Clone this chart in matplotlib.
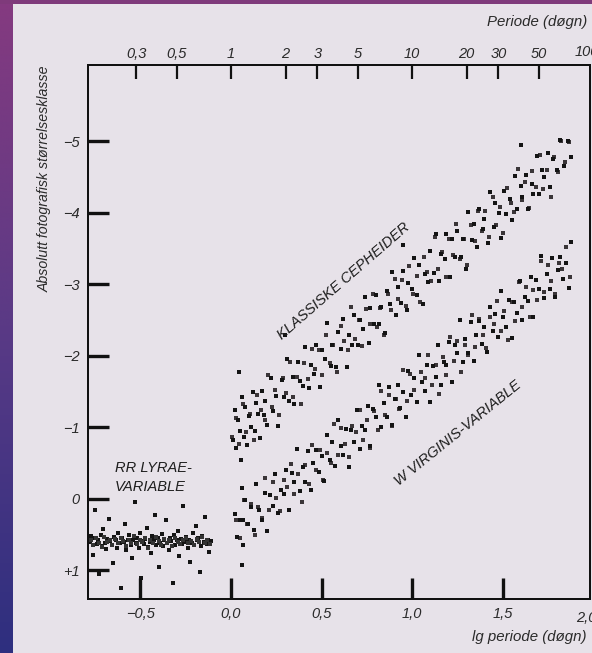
import numpy as np
import matplotlib
matplotlib.use("Agg")
import matplotlib.pyplot as plt
from matplotlib.colors import LinearSegmentedColormap

plt.rcParams['font.family'] = ['Liberation Sans', 'DejaVu Sans']
plt.rcParams['font.style'] = 'italic'

# ---------------- data ----------------
# Classical Cepheids (lg P, absolute photographic magnitude)
cep_x = [0.01,0.02,0.03,0.04,0.05,0.06,0.07,0.08,0.09,0.10,0.11,0.12,0.13,0.14,0.15,0.16,0.17,0.18,0.19,0.20,
         0.22,0.23,0.25,0.26,0.28,0.29,0.31,0.32,0.34,0.35,0.37,0.38,0.40,0.41,0.43,0.44,0.46,0.47,0.49,0.50,
         0.52,0.53,0.55,0.56,0.58,0.59,0.61,0.62,0.64,0.65,0.67,0.68,0.70,0.71,0.73,0.74,0.76,0.77,0.79,0.80,
         0.82,0.83,0.85,0.86,0.88,0.89,0.91,0.92,0.94,0.95,0.97,0.98,1.00,1.01,1.03,1.04,1.06,1.07,1.09,1.10,
         1.12,1.13,1.15,1.16,1.18,1.19,1.21,1.22,1.24,1.25,1.27,1.28,1.30,1.31,1.33,1.34,1.36,1.37,1.39,1.40,
         1.42,1.43,1.45,1.46,1.48,1.49,1.51,1.52,1.54,1.55,1.57,1.58,1.60,1.61,1.63,1.64,1.66,1.67,1.69,1.70,
         1.72,1.73,1.75,1.76,1.78,1.80,1.82,1.84,1.86,1.88,
         0.055,0.06,0.065,0.06,0.045,0.30,0.95,1.60]
cep_m = [-0.82,-1.24,-0.71,-1.10,-0.95,-1.42,-0.86,-1.28,-0.76,-1.16,-1.01,-1.50,-0.95,-1.34,-1.19,-0.85,-1.51,-1.18,-1.37,-1.04,
         -1.69,-1.23,-1.44,-1.02,-1.66,-1.43,-1.96,-1.37,-1.71,-1.33,-1.91,-1.65,-1.58,-2.12,-1.55,-1.88,-1.75,-2.16,-1.57,-2.09,
         -1.96,-2.46,-1.86,-2.16,-1.84,-2.33,-2.10,-2.52,-1.84,-2.29,-2.16,-2.57,-2.15,-2.50,-2.38,-2.83,-2.18,-2.67,-2.45,-2.85,
         -2.45,-2.68,-2.32,-2.91,-2.73,-3.18,-2.57,-2.96,-2.74,-3.19,-2.64,-3.02,-2.94,-3.37,-2.85,-3.27,-2.73,-3.15,-3.03,-3.47,
         -3.16,-3.70,-3.05,-3.43,-3.35,-3.70,-3.11,-3.63,-3.38,-3.75,-3.38,-3.63,-3.22,-4.02,-3.62,-3.85,-3.52,-4.06,-3.77,-3.92,
         -3.58,-4.30,-3.80,-4.14,-4.00,-3.65,-4.31,-3.99,-4.19,-3.90,-4.52,-4.05,-4.38,-4.22,-4.53,-4.06,-4.40,-4.27,-4.80,-4.27,
         -4.60,-4.50,-4.84,-4.37,-4.76,-4.60,-5.02,-4.66,-5.00,-4.79,
         -0.55,-0.15,0.30,0.92,-1.78,-2.30,-3.55,-4.95]
# fainter dots of the same band
cep2_x = [0.005,0.025,0.045,0.065,0.085,0.105,0.125,0.145,0.165,0.185,0.205,0.225,0.245,0.265,0.285,0.305,0.325,0.345,0.365,0.385,
          0.405,0.425,0.445,0.465,0.485,0.505,0.525,0.545,0.565,0.585,0.605,0.625,0.645,0.665,0.685,0.705,0.725,0.745,0.765,0.785,
          0.805,0.825,0.845,0.865,0.885,0.905,0.925,0.945,0.965,0.985,1.005,1.025,1.045,1.065,1.085,1.105,1.125,1.145,1.165,1.185,
          1.205,1.225,1.245,1.265,1.285,1.305,1.325,1.345,1.365,1.385,1.405,1.425,1.445,1.465,1.485,1.505,1.525,1.545,1.565,1.585,
          1.605,1.625,1.645,1.665,1.685,1.705,1.725,1.745,1.765,1.785,1.805,1.825,1.845,1.865]
cep2_m = [-0.86,-1.13,-0.77,-1.33,-0.93,-1.19,-0.82,-1.45,-1.24,-1.11,-1.73,-1.28,-1.53,-1.17,-1.69,-1.48,-1.91,-1.43,-1.70,-1.33,
          -1.90,-1.68,-2.10,-1.82,-2.09,-1.74,-2.30,-1.90,-2.15,-1.78,-2.42,-2.21,-2.08,-2.69,-2.24,-2.50,-2.14,-2.66,-2.44,-2.87,
          -2.40,-2.67,-2.30,-2.86,-2.64,-3.07,-2.79,-3.06,-2.70,-3.26,-2.87,-3.12,-2.75,-3.38,-3.17,-3.05,-3.66,-3.21,-3.46,-3.10,
          -3.63,-3.41,-3.84,-3.36,-3.63,-3.27,-3.83,-3.61,-4.03,-3.75,-4.03,-3.67,-4.23,-3.83,-4.08,-3.72,-4.35,-4.14,-4.01,-4.62,
          -4.18,-4.43,-4.07,-4.59,-4.37,-4.81,-4.33,-4.60,-4.23,-4.79,-4.58,-5.00,-4.72,-4.99]

# W Virginis variables
wvir_x = [0.020,0.035,0.050,0.065,0.080,0.095,0.110,0.125,0.140,0.155,0.170,0.185,0.200,0.215,0.230,0.245,0.260,0.275,0.290,0.305,
          0.320,0.335,0.350,0.365,0.380,0.395,0.410,0.425,0.440,0.455,0.470,0.485,0.500,0.515,0.530,0.545,0.560,0.575,0.590,0.605,
          0.620,0.635,0.650,0.665,0.680,0.695,0.710,0.725,0.740,0.755,0.770,0.785,0.800,0.815,0.830,0.845,0.860,0.875,0.890,0.905,
          0.920,0.935,0.950,0.965,0.980,0.995,1.010,1.025,1.040,1.055,1.070,1.085,1.100,1.115,1.130,1.145,1.160,1.175,1.190,1.205,
          1.220,1.235,1.250,1.265,1.280,1.295,1.310,1.325,1.340,1.355,1.370,1.385,1.400,1.415,1.430,1.445,1.460,1.475,1.490,1.505,
          1.520,1.535,1.550,1.565,1.580,1.595,1.610,1.625,1.640,1.655,1.670,1.685,1.700,1.715,1.730,1.745,1.760,1.775,1.790,1.805,
          1.820,1.835,1.850,1.865,1.880]
wvir_m = [0.21,0.53,0.30,0.65,0.01,0.35,0.11,0.44,-0.21,0.16,0.29,-0.08,0.45,-0.06,0.10,-0.35,0.20,-0.12,-0.07,-0.40,
          0.16,-0.36,-0.24,-0.70,-0.11,-0.44,-0.24,-0.67,-0.13,-0.50,-0.69,-0.37,-0.60,-0.25,-0.89,-0.55,-0.79,-0.46,-1.11,-0.74,
          -0.61,-0.98,-0.45,-0.96,-0.80,-1.25,-0.70,-1.02,-0.97,-1.30,-0.74,-1.26,-1.14,-1.60,-1.01,-1.34,-1.14,-1.57,-1.03,-1.40,
          -1.59,-1.27,-1.50,-1.15,-1.79,-1.45,-1.69,-1.36,-2.01,-1.64,-1.51,-1.88,-1.35,-1.86,-1.70,-2.15,-1.60,-1.92,-1.87,-2.20,
          -1.64,-2.16,-2.04,-2.50,-1.91,-2.24,-2.04,-2.47,-1.93,-2.30,-2.49,-2.17,-2.40,-2.05,-2.69,-2.35,-2.59,-2.26,-2.91,-2.54,
          -2.41,-2.78,-2.25,-2.76,-2.60,-3.05,-2.50,-2.82,-2.77,-3.10,-2.54,-3.06,-2.94,-3.40,-2.81,-3.14,-2.94,-3.37,-2.83,-3.20,
          -3.39,-3.07,-3.30,-2.95,-3.59]
wvir2_x = [0.03,0.05,0.07,0.09,0.11,0.13,0.15,0.17,0.19,0.21,0.23,0.25,0.27,0.29,0.31,0.33,0.35,0.37,0.39,0.41,
           0.43,0.45,0.47,0.49,0.51,0.53,0.55,0.57,0.59,0.61,0.63,0.65,0.67,0.69,0.71,0.73,0.75,0.77,0.79,0.81,
           0.83,0.85,0.87,0.89,0.91,0.93,0.95,0.97,0.99,1.01,1.03,1.05,1.07,1.09,1.11,1.13,1.15,1.17,1.19,1.21,
           1.23,1.25,1.27,1.29,1.31,1.33,1.35,1.37,1.39,1.41,1.43,1.45,1.47,1.49,1.51,1.53,1.55,1.57,1.59,1.61,
           1.63,1.65,1.67,1.69,1.71,1.73,1.75,1.77,1.79,1.81,1.83,1.85,1.87]
wvir2_m = [0.29,0.55,0.01,0.35,0.07,0.50,0.12,0.26,-0.29,0.15,-0.23,-0.01,0.17,-0.26,-0.17,-0.49,-0.07,-0.35,0.05,-0.47,
           -0.21,-0.75,-0.41,-0.69,-0.26,-0.64,-0.50,-1.05,-0.61,-0.99,-0.77,-0.59,-1.02,-0.93,-1.25,-0.83,-1.11,-0.71,-1.23,-0.97,
           -1.51,-1.17,-1.45,-1.02,-1.40,-1.26,-1.81,-1.37,-1.75,-1.53,-1.35,-1.78,-1.69,-2.01,-1.59,-1.87,-1.47,-1.99,-1.73,-2.27,
           -1.93,-2.21,-1.78,-2.16,-2.02,-2.57,-2.13,-2.51,-2.29,-2.11,-2.54,-2.45,-2.77,-2.35,-2.63,-2.23,-2.75,-2.49,-3.03,-2.69,
           -2.97,-2.54,-2.92,-2.78,-3.33,-2.89,-3.27,-3.05,-2.87,-3.30,-3.21,-3.53,-3.11]

# RR Lyrae variables
rr_x = [-0.780,-0.773,-0.765,-0.758,-0.750,-0.743,-0.735,-0.728,-0.720,-0.713,
        -0.705,-0.698,-0.690,-0.683,-0.675,-0.668,-0.660,-0.653,-0.645,-0.638,
        -0.630,-0.623,-0.615,-0.608,-0.600,-0.593,-0.585,-0.578,-0.570,-0.563,
        -0.555,-0.548,-0.540,-0.533,-0.525,-0.518,-0.510,-0.503,-0.495,-0.488,
        -0.480,-0.473,-0.465,-0.458,-0.450,-0.443,-0.435,-0.428,-0.420,-0.413,
        -0.405,-0.398,-0.390,-0.383,-0.375,-0.368,-0.360,-0.353,-0.345,-0.338,
        -0.330,-0.323,-0.315,-0.308,-0.300,-0.293,-0.285,-0.278,-0.270,-0.263,
        -0.255,-0.248,-0.240,-0.233,-0.225,-0.218,-0.210,-0.203,-0.195,-0.188,
        -0.180,-0.173,-0.165,-0.158,-0.150,-0.143,-0.135,-0.128,-0.120,-0.113]
rr_m = [0.60,0.52,0.78,0.55,0.15,0.63,0.58,1.05,0.50,0.66,0.42,0.61,0.70,0.56,0.28,0.59,0.64,0.90,0.53,0.57,
        0.68,0.47,0.62,1.25,0.55,0.60,0.35,0.72,0.58,0.51,0.65,0.82,0.57,0.05,0.61,0.54,0.69,0.48,1.10,0.59,
        0.63,0.56,0.40,0.67,0.60,0.75,0.52,0.58,0.22,0.64,0.55,0.95,0.61,0.49,0.66,0.57,0.30,0.62,0.71,0.54,
        0.59,1.18,0.50,0.65,0.58,0.45,0.80,0.56,0.63,0.10,0.60,0.53,0.69,0.57,0.88,0.61,0.47,0.64,0.38,0.58,
        0.55,1.02,0.66,0.52,0.60,0.25,0.63,0.57,0.74,0.59]
rr_core_x = [-0.775,-0.760,-0.745,-0.730,-0.715,-0.700,-0.685,-0.670,-0.655,-0.640,-0.625,-0.610,-0.595,-0.580,-0.565,
             -0.550,-0.535,-0.520,-0.505,-0.490,-0.475,-0.460,-0.445,-0.430,-0.415,-0.400,-0.385,-0.370,-0.355,-0.340,
             -0.325,-0.310,-0.295,-0.280,-0.265,-0.250,-0.235,-0.220,-0.205,-0.190,-0.175,-0.160,-0.145,-0.130,-0.115]
rr_core_m = [0.57,0.64,0.55,0.61,0.67,0.53,0.60,0.58,0.65,0.56,0.62,0.54,0.59,0.66,0.57,
             0.61,0.52,0.63,0.58,0.60,0.55,0.68,0.57,0.62,0.53,0.59,0.64,0.56,0.61,0.58,
             0.66,0.54,0.60,0.63,0.57,0.55,0.62,0.59,0.65,0.56,0.60,0.53,0.61,0.58,0.63]

# axes ticks / labels
lg_ticks = [-0.5, 0.0, 0.5, 1.0, 1.5]
lg_labels = ['\u22120,5', '0,0', '0,5', '1,0', '1,5']
period_ticks = [0.3, 0.5, 1, 2, 3, 5, 10, 20, 30, 50]
period_labels = ['0,3', '0,5', '1', '2', '3', '5', '10', '20', '30', '50']
mag_ticks = [-5, -4, -3, -2, -1, 0, 1]
mag_labels = ['\u22125', '\u22124', '\u22123', '\u22122', '\u22121', '0', '+1']

# ---------------- figure ----------------
W, H = 592, 653
fig = plt.figure(figsize=(W / 100, H / 100), dpi=100)
paper = '#e7e2e9'
fig.patch.set_facecolor(paper)

# purple/blue border strips
cmap = LinearSegmentedColormap.from_list('bd', ['#853a80', '#5a3a86', '#2e2f7f'])
bl = fig.add_axes([0, 0, 13 / W, 1])
bl.imshow(np.linspace(0, 1, 256).reshape(-1, 1), aspect='auto', cmap=cmap,
          extent=[0, 1, 0, 1], origin='upper')
bl.axis('off')
bt = fig.add_axes([0, 1 - 4 / H, 1, 4 / H])
bt.set_facecolor('#7f3a7b')
bt.set_xticks([]); bt.set_yticks([])
for s in bt.spines.values():
    s.set_visible(False)

L, R, T, B = 88, 590, 65, 599
ax = fig.add_axes([L / W, 1 - B / H, (R - L) / W, (B - T) / H])
ax.set_facecolor(paper)
ax.set_xlim(-0.79, 1.983)
ax.set_ylim(1.40, -6.07)

dot = '#141414'
faint = '#3a3538'
ax.scatter(cep2_x, cep2_m, s=5, c=faint, marker='s', linewidths=0)
ax.scatter(wvir2_x, wvir2_m, s=5, c=faint, marker='s', linewidths=0)
ax.scatter(cep_x, cep_m, s=6, c=dot, marker='s', linewidths=0)
ax.scatter(wvir_x, wvir_m, s=6, c=dot, marker='s', linewidths=0)
ax.scatter(rr_x, rr_m, s=6, c=dot, marker='s', linewidths=0)
ax.scatter(rr_core_x, rr_core_m, s=5, c='#333333', marker='s', linewidths=0)

for s in ax.spines.values():
    s.set_linewidth(1.4)
    s.set_color('#111111')

tc = '#2a2a2a'
ax.set_xticks(lg_ticks)
ax.set_xticklabels(lg_labels)
ax.tick_params(axis='x', direction='in', length=15, width=2.4, color='#111111',
               labelsize=10.5, labelcolor=tc, pad=6)
ax.set_yticks(mag_ticks)
ax.set_yticklabels(mag_labels)
ax.tick_params(axis='y', direction='in', length=15, width=2.4, color='#111111',
               labelsize=10.5, labelcolor=tc, pad=6)

# top period axis
top = ax.twiny()
top.set_xlim(ax.get_xlim())
top.set_xticks(np.log10(period_ticks))
top.set_xticklabels(period_labels)
top.tick_params(axis='x', direction='in', length=10, width=1.6, color='#111111',
                labelsize=10.5, labelcolor=tc, pad=3)
for s in top.spines.values():
    s.set_linewidth(1.4)
    s.set_color('#111111')

# labels at lg P = 2 (partly beyond the right edge, as in the original scan)
ax.text(1.962, -0.022, '2,0', transform=ax.get_xaxis_transform(), ha='center', va='top',
        fontsize=10.5, color=tc, clip_on=False)
ax.text(1.965, 1.011, '100', transform=ax.get_xaxis_transform(), ha='center', va='bottom',
        fontsize=10.5, color=tc, clip_on=False)

fig.text(487 / W, 1 - 22 / H, 'Periode (døgn)', ha='left', va='center', fontsize=10.8, color=tc)
fig.text(472 / W, 1 - 637 / H, 'lg periode (døgn)', ha='left', va='center', fontsize=10.8, color=tc)
fig.text(45 / W, 1 - 66 / H, 'Absolutt fotografisk størrelsesklasse', rotation=90,
         ha='center', va='top', fontsize=10.2, color=tc)

lab = '#1e1e1e'
ax.text(0.62, -3.05, 'KLASSISKE CEPHEIDER', rotation=41, ha='center', va='center',
        fontsize=10.5, color=lab, rotation_mode='anchor')
ax.text(1.254, -0.92, 'W VIRGINIS-VARIABLE', rotation=39, ha='center', va='center',
        fontsize=10.5, color=lab, rotation_mode='anchor')
ax.text(-0.64, -0.30, 'RR LYRAE-\nVARIABLE', ha='left', va='center', fontsize=10.5,
        color=lab, linespacing=1.5)

fig.savefig('out.png', dpi=100, facecolor=fig.get_facecolor())
